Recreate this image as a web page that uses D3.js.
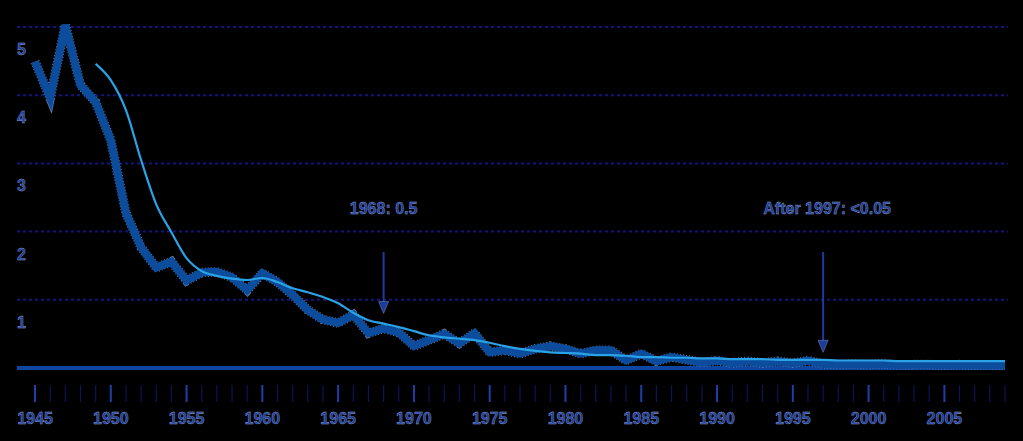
<!DOCTYPE html>
<html><head><meta charset="utf-8">
<script src="https://cdn.jsdelivr.net/npm/d3@7"></script>
<style>html,body{margin:0;padding:0;background:#000;}svg{display:block;}</style>
</head><body><svg id="c" width="1023" height="441"></svg>
<script>
const years = d3.range(1945, 2010);
const actual = [4.49,3.96,5.03,4.15,3.90,3.34,2.27,1.77,1.47,1.56,1.28,1.40,1.41,1.33,1.14,1.39,1.26,1.07,0.85,0.71,0.66,0.78,0.51,0.58,0.52,0.32,0.41,0.50,0.36,0.51,0.23,0.26,0.21,0.28,0.32,0.28,0.21,0.26,0.26,0.11,0.21,0.10,0.16,0.12,0.08,0.11,0.07,0.10,0.07,0.10,0.07,0.11,0.06,0.05,0.06,0.05,0.06,0.04,0.05,0.05,0.04,0.05,0.04,0.04,0.04];
const avgYears = d3.range(1949, 2010);
const average = [4.46,4.22,3.78,3.05,2.40,1.99,1.61,1.42,1.35,1.31,1.29,1.32,1.26,1.17,1.11,1.04,0.95,0.81,0.70,0.65,0.60,0.54,0.48,0.45,0.43,0.41,0.37,0.32,0.28,0.25,0.23,0.22,0.21,0.19,0.19,0.18,0.16,0.16,0.15,0.15,0.14,0.14,0.13,0.13,0.13,0.12,0.12,0.12,0.12,0.11,0.11,0.11,0.11,0.10,0.10,0.10,0.10,0.10,0.10,0.10,0.10];
const yTicks = [1,2,3,4,5];
const xLabels = [1945,1950,1955,1960,1965,1970,1975,1980,1985,1990,1995,2000,2005];
const notes = [{year:1968, text:"1968: 0.5", tip:0.8, tx:0},{year:1997, text:"After 1997: <0.05", tip:0.23, tx:4}];

const svg = d3.select("#c");
const x = d3.scaleLinear().domain([1945, 2009]).range([35, 1005]);
const y = d3.scaleLinear().domain([0, 5]).range([368, 27]);
const txtFill = "#1d3d98", txtStroke = "#8e9fd0";
const font = "Liberation Sans, Arial, sans-serif";

// gridlines
svg.append("g").selectAll("line").data(yTicks).join("line")
  .attr("x1", 17).attr("x2", 1008)
  .attr("y1", d => y(d)).attr("y2", d => y(d))
  .attr("stroke", "#141480").attr("stroke-width", 2).attr("stroke-dasharray", "3 3");

// y labels
svg.append("g").selectAll("text").data(yTicks).join("text")
  .attr("x", 17).attr("y", d => y(d) + 28)
  .attr("font-family", font).attr("font-size", 16).attr("font-weight", "bold")
  .attr("fill", txtFill).attr("stroke", txtStroke).attr("stroke-width", 0.4)
  .text(d => d);

// x axis ticks
svg.append("g").selectAll("line").data(years).join("line")
  .attr("x1", d => x(d)).attr("x2", d => x(d))
  .attr("y1", 385).attr("y2", 402)
  .attr("stroke", d => d % 5 === 0 ? "#1e3fa8" : "#0b1558")
  .attr("stroke-width", d => d % 5 === 0 ? 2 : 1.2);

svg.append("g").selectAll("text").data(xLabels).join("text")
  .attr("x", d => x(d)).attr("y", 424).attr("text-anchor", "middle")
  .attr("font-family", font).attr("font-size", 16).attr("font-weight", "bold")
  .attr("fill", txtFill).attr("stroke", txtStroke).attr("stroke-width", 0.4)
  .text(d => d);

// baseline
svg.append("line").attr("x1", 17).attr("x2", 1005).attr("y1", y(0)).attr("y2", y(0))
  .attr("stroke", "#0d47a1").attr("stroke-width", 4);

// thick actual line
const lineA = d3.line().x((d, i) => x(years[i])).y(d => y(d));
svg.append("path").attr("d", lineA(actual)).attr("fill", "none")
  .attr("stroke", "#6a7aa4").attr("stroke-width", 9.5).attr("stroke-dasharray", "1 2")
  .attr("stroke-linejoin", "miter");
svg.append("path").attr("d", lineA(actual)).attr("fill", "none")
  .attr("stroke", "#0b4c9c").attr("stroke-width", 8).attr("stroke-linejoin", "miter");

// thin average line
const lineB = d3.line().x((d, i) => x(avgYears[i])).y(d => y(d)).curve(d3.curveMonotoneX);
svg.append("path").attr("d", lineB(average)).attr("fill", "none")
  .attr("stroke", "#2aa2e6").attr("stroke-width", 2.2);

// annotations
notes.forEach(n => {
  const cx = x(n.year);
  svg.append("text").attr("x", cx + n.tx).attr("y", 214).attr("text-anchor", "middle")
    .attr("font-family", font).attr("font-size", 16).attr("font-weight", "bold")
    .attr("fill", txtFill).attr("stroke", txtStroke).attr("stroke-width", 0.4)
    .text(n.text);
  const tipY = y(n.tip);
  svg.append("line").attr("x1", cx).attr("x2", cx).attr("y1", 252).attr("y2", tipY - 10)
    .attr("stroke", "#1a3c9c").attr("stroke-width", 2);
  svg.append("path").attr("d", `M${cx-5},${tipY-12}L${cx+5},${tipY-12}L${cx},${tipY}Z`)
    .attr("fill", "#1a3c9c").attr("stroke", "#7f90c0").attr("stroke-width", 0.5);
});
</script></body></html>
